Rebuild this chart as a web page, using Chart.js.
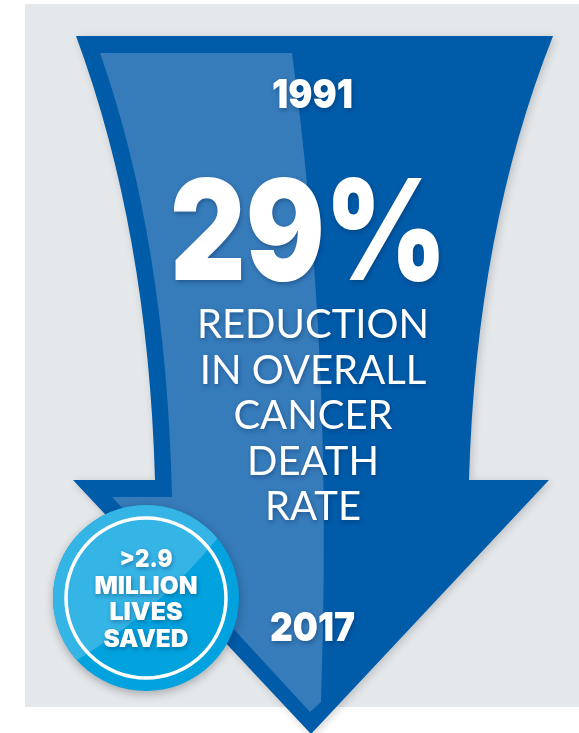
<!DOCTYPE html>
<html>
<head>
<meta charset="utf-8">
<script src="https://cdn.jsdelivr.net/npm/chart.js@4.4.1/dist/chart.umd.min.js"></script>
<style>
  html, body { margin: 0; padding: 0; background: #ffffff; }
  #wrap { width: 579px; height: 733px; }
</style>
</head>
<body>
<div id="wrap"><canvas id="infographic" width="579" height="733"></canvas></div>
<script>
// values shown on the graphic
var years = ['1991', '2017'];
var reduction = [29];
var captionLines = ['REDUCTION', 'IN OVERALL', 'CANCER', 'DEATH', 'RATE'];
var livesSaved = ['>2.9'];
var badgeLines = ['MILLION', 'LIVES', 'SAVED'];

var colors = {
  panel: '#e5e8eb',
  arrow: '#005ba9',
  band: '#367bba',
  badge: '#02a2de',
  badgeLight: '#35b4e6',
  text: '#ffffff'
};

var heavy = 'Inter, Lato, sans-serif';

function outerArrow(ctx) {
  ctx.beginPath();
  ctx.moveTo(76, 36);
  ctx.lineTo(553, 36);
  ctx.quadraticCurveTo(476, 230, 469, 480);
  ctx.lineTo(549, 480);
  ctx.lineTo(311, 734);
  ctx.lineTo(73, 480);
  ctx.lineTo(155, 480);
  ctx.quadraticCurveTo(148, 230, 76, 36);
  ctx.closePath();
}

function lightBand(ctx) {
  ctx.beginPath();
  ctx.moveTo(100, 53);
  ctx.lineTo(292, 53);
  ctx.bezierCurveTo(318, 250, 330, 450, 321, 702);
  ctx.lineTo(310, 712);
  ctx.lineTo(112, 497);
  ctx.lineTo(172, 497);
  ctx.quadraticCurveTo(166, 240, 100, 53);
  ctx.closePath();
}

// centred white text with a soft drop shadow; squeezed to a width when one is given
function shadowText(ctx, str, x, y, font, width) {
  ctx.save();
  ctx.font = font;
  ctx.fillStyle = colors.text;
  ctx.textAlign = 'center';
  ctx.textBaseline = 'alphabetic';
  ctx.shadowColor = 'rgba(0, 30, 70, 0.35)';
  ctx.shadowBlur = 4;
  ctx.shadowOffsetX = 1;
  ctx.shadowOffsetY = 2;
  ctx.translate(x, y);
  if (width) {
    ctx.scale(width / ctx.measureText(str).width, 1);
  }
  ctx.fillText(str, 0, 0);
  ctx.restore();
}

var arrowGraphic = {
  id: 'arrowGraphic',
  beforeDraw: function(chart) {
    var ctx = chart.ctx;
    var sx = chart.width / 579, sy = chart.height / 733;
    ctx.save();
    ctx.scale(sx, sy);

    ctx.fillStyle = '#ffffff';
    ctx.fillRect(0, 0, 579, 733);
    ctx.fillStyle = colors.panel;
    ctx.fillRect(25, 4, 554, 703);

    // arrow body
    ctx.save();
    ctx.shadowColor = 'rgba(0, 0, 0, 0.18)';
    ctx.shadowBlur = 8;
    ctx.shadowOffsetX = 2;
    ctx.shadowOffsetY = 2;
    ctx.fillStyle = colors.arrow;
    outerArrow(ctx);
    ctx.fill();
    ctx.restore();

    ctx.fillStyle = colors.band;
    lightBand(ctx);
    ctx.fill();

    // headline text
    shadowText(ctx, years[0], 312.5, 108, '900 40px ' + heavy, 81);
    shadowText(ctx, reduction[0] + '%', 308.5, 280, '900 140px ' + heavy, 277);
    captionLines.forEach(function(line, i) {
      shadowText(ctx, line, 313, 338 + i * 45.5, '400 40px Lato');
    });
    shadowText(ctx, years[1], 312.5, 641, '900 40px ' + heavy, 85);

    // lives saved badge
    var cx = 146, cy = 598, r = 93;
    ctx.save();
    ctx.shadowColor = 'rgba(0, 0, 0, 0.28)';
    ctx.shadowBlur = 10;
    ctx.shadowOffsetY = 3;
    ctx.fillStyle = colors.badge;
    ctx.beginPath();
    ctx.arc(cx, cy, r, 0, Math.PI * 2);
    ctx.fill();
    ctx.restore();

    ctx.save();
    ctx.beginPath();
    ctx.arc(cx, cy, r, 0, Math.PI * 2);
    ctx.clip();
    ctx.fillStyle = colors.badgeLight;
    ctx.beginPath();
    ctx.moveTo(30, 690);
    ctx.lineTo(77, 660);
    ctx.quadraticCurveTo(160, 610, 220, 535);
    ctx.lineTo(260, 480);
    ctx.lineTo(30, 480);
    ctx.closePath();
    ctx.fill();
    ctx.restore();

    ctx.strokeStyle = '#ffffff';
    ctx.lineWidth = 3.5;
    ctx.beginPath();
    ctx.arc(cx, cy, 80, 0, Math.PI * 2);
    ctx.stroke();

    var badgeWidths = [103, 73, 85];
    shadowText(ctx, livesSaved[0], cx, 567, '900 24px ' + heavy, 53);
    badgeLines.forEach(function(line, i) {
      shadowText(ctx, line, cx, 593.5 + i * 26.7, '900 24px ' + heavy, badgeWidths[i]);
    });

    ctx.restore();
  }
};

new Chart(document.getElementById('infographic'), {
  type: 'bar',
  data: { labels: years, datasets: [] },
  options: {
    responsive: false,
    animation: false,
    devicePixelRatio: 1,
    events: [],
    layout: { padding: 0 },
    plugins: { legend: { display: false }, tooltip: { enabled: false } },
    scales: { x: { display: false }, y: { display: false } }
  },
  plugins: [arrowGraphic]
});
</script>
</body>
</html>
